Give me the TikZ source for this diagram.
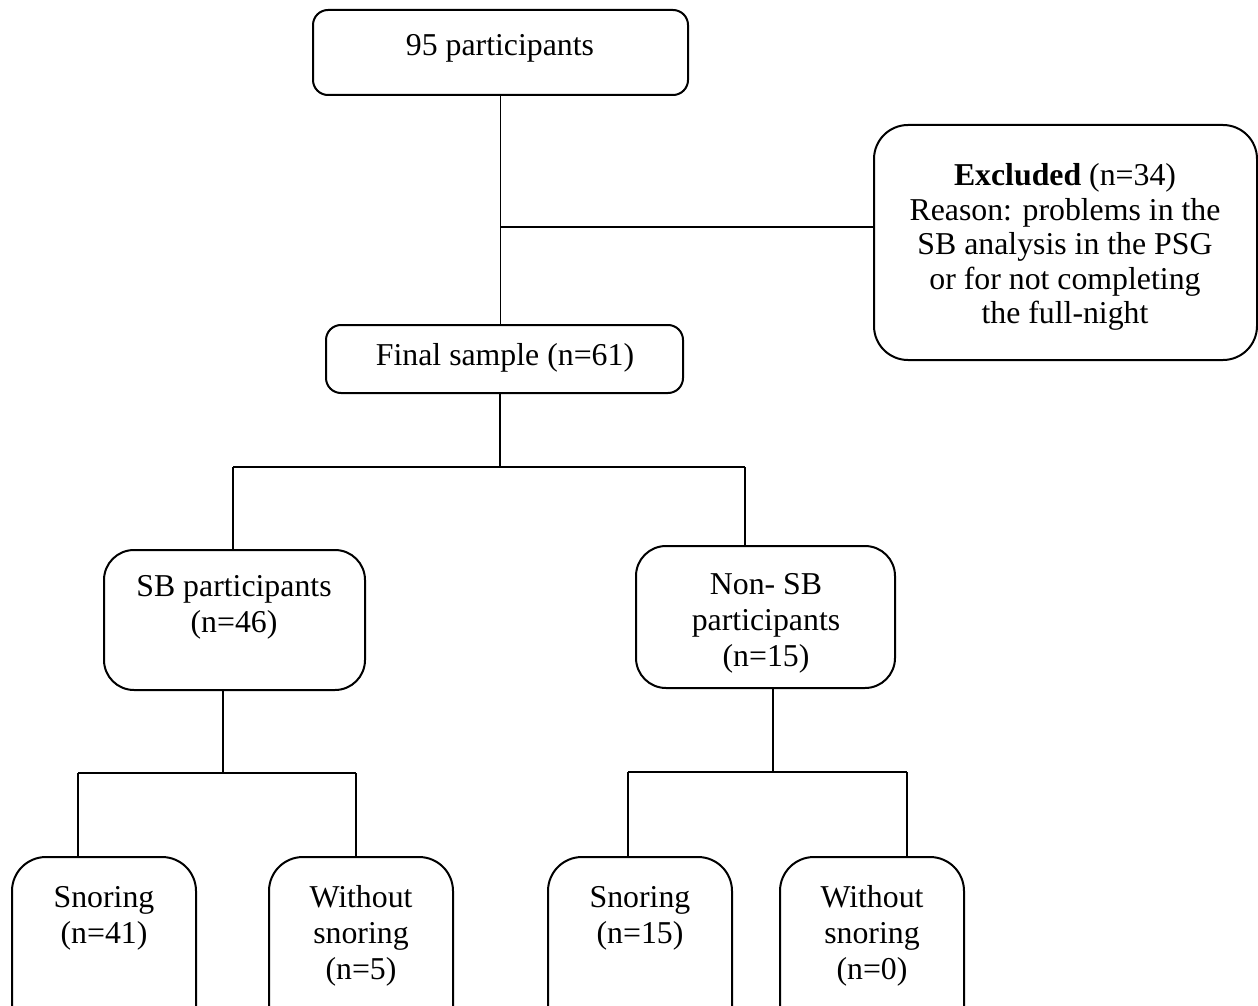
\documentclass[tikz,border=0pt]{standalone}
\usepackage{fontspec}
\setmainfont{Liberation Serif}
\begin{document}
\begin{tikzpicture}[x=0.5pt,y=-0.5pt,
  box/.style={draw, line width=1pt, inner sep=0pt, rounded corners=#1},
  box/.default=15pt,
  txt/.style={align=center, inner sep=0pt, font=\fontsize{15.9}{18}\selectfont},
  txtx/.style={align=center, inner sep=0pt, font=\fontsize{15.9}{17.3}\selectfont},
  conn/.style={line width=0.8pt}]
\useasboundingbox (0,0) rectangle (1258,1006);
\clip (0,0) rectangle (1258,1006);
% boxes
\node[box=7.5pt, minimum width=187.5pt, minimum height=42.5pt] (top) at (500.5,52.5) {};
\node[box=17pt, minimum width=191.5pt, minimum height=117.5pt] (excl) at (1065.5,242.5) {};
\node[box=7.5pt, minimum width=178.5pt, minimum height=34pt] (final) at (504.5,359) {};
\node[box=15pt, minimum width=130.5pt, minimum height=70pt] (sb) at (234.5,620) {};
\node[box=15pt, minimum width=129.5pt, minimum height=71pt] (nonsb) at (765.5,617) {};
\node[box=17pt, minimum width=92pt, minimum height=92pt] (s41) at (104,949) {};
\node[box=17pt, minimum width=92pt, minimum height=92pt] (w5) at (361,949) {};
\node[box=17pt, minimum width=92pt, minimum height=92pt] (s15) at (640,949) {};
\node[box=17pt, minimum width=92pt, minimum height=92pt] (w0) at (872,949) {};
% texts
\node[txt] (ttop) at (500,48) {95 participants};
\node[txtx] (texcl) at (1065,247) {\textbf{Excluded} (n=34)\\Reason: problems in the\\SB analysis in the PSG\\or for not completing\\the full-night};
\node[txt] (tfinal) at (505,358) {Final sample (n=61)};
\node[txt] (tsb) at (234,607) {SB participants\\(n=46)};
\node[txt] (tnonsb) at (766,623) {Non- SB\\participants\\(n=15)};
\node[txt] (ts41) at (104,918) {Snoring\\(n=41)};
\node[txt] (tw5) at (361,936) {Without\\snoring\\(n=5)};
\node[txt] (ts15) at (640,918) {Snoring\\(n=15)};
\node[txt] (tw0) at (872,936) {Without\\snoring\\(n=0)};
% junction coordinates
\coordinate (j1) at (500,227);
\coordinate (bc) at (500,467);
\coordinate (bl) at (233,467);
\coordinate (br) at (745,467);
\coordinate (sbj) at (223,773);
\coordinate (sbl) at (78,773);
\coordinate (sbr) at (356,773);
\coordinate (nsj) at (773,772);
\coordinate (nsl) at (628,772);
\coordinate (nsr) at (907,772);
% connectors
\draw[conn] (top.south) -- (top.south |- final.north);
\draw[conn] (j1) -- (j1 -| excl.west);
\draw[conn] (bc |- final.south) -- (bc);
\draw[conn] (bl) -- (br);
\draw[conn] (bl) -- (bl |- sb.north);
\draw[conn] (br) -- (br |- nonsb.north);
\draw[conn] (sbj |- sb.south) -- (sbj);
\draw[conn] (sbl) -- (sbr);
\draw[conn] (sbl) -- (sbl |- s41.north);
\draw[conn] (sbr) -- (sbr |- w5.north);
\draw[conn] (nsj |- nonsb.south) -- (nsj);
\draw[conn] (nsl) -- (nsr);
\draw[conn] (nsl) -- (nsl |- s15.north);
\draw[conn] (nsr) -- (nsr |- w0.north);
\end{tikzpicture}
\end{document}
